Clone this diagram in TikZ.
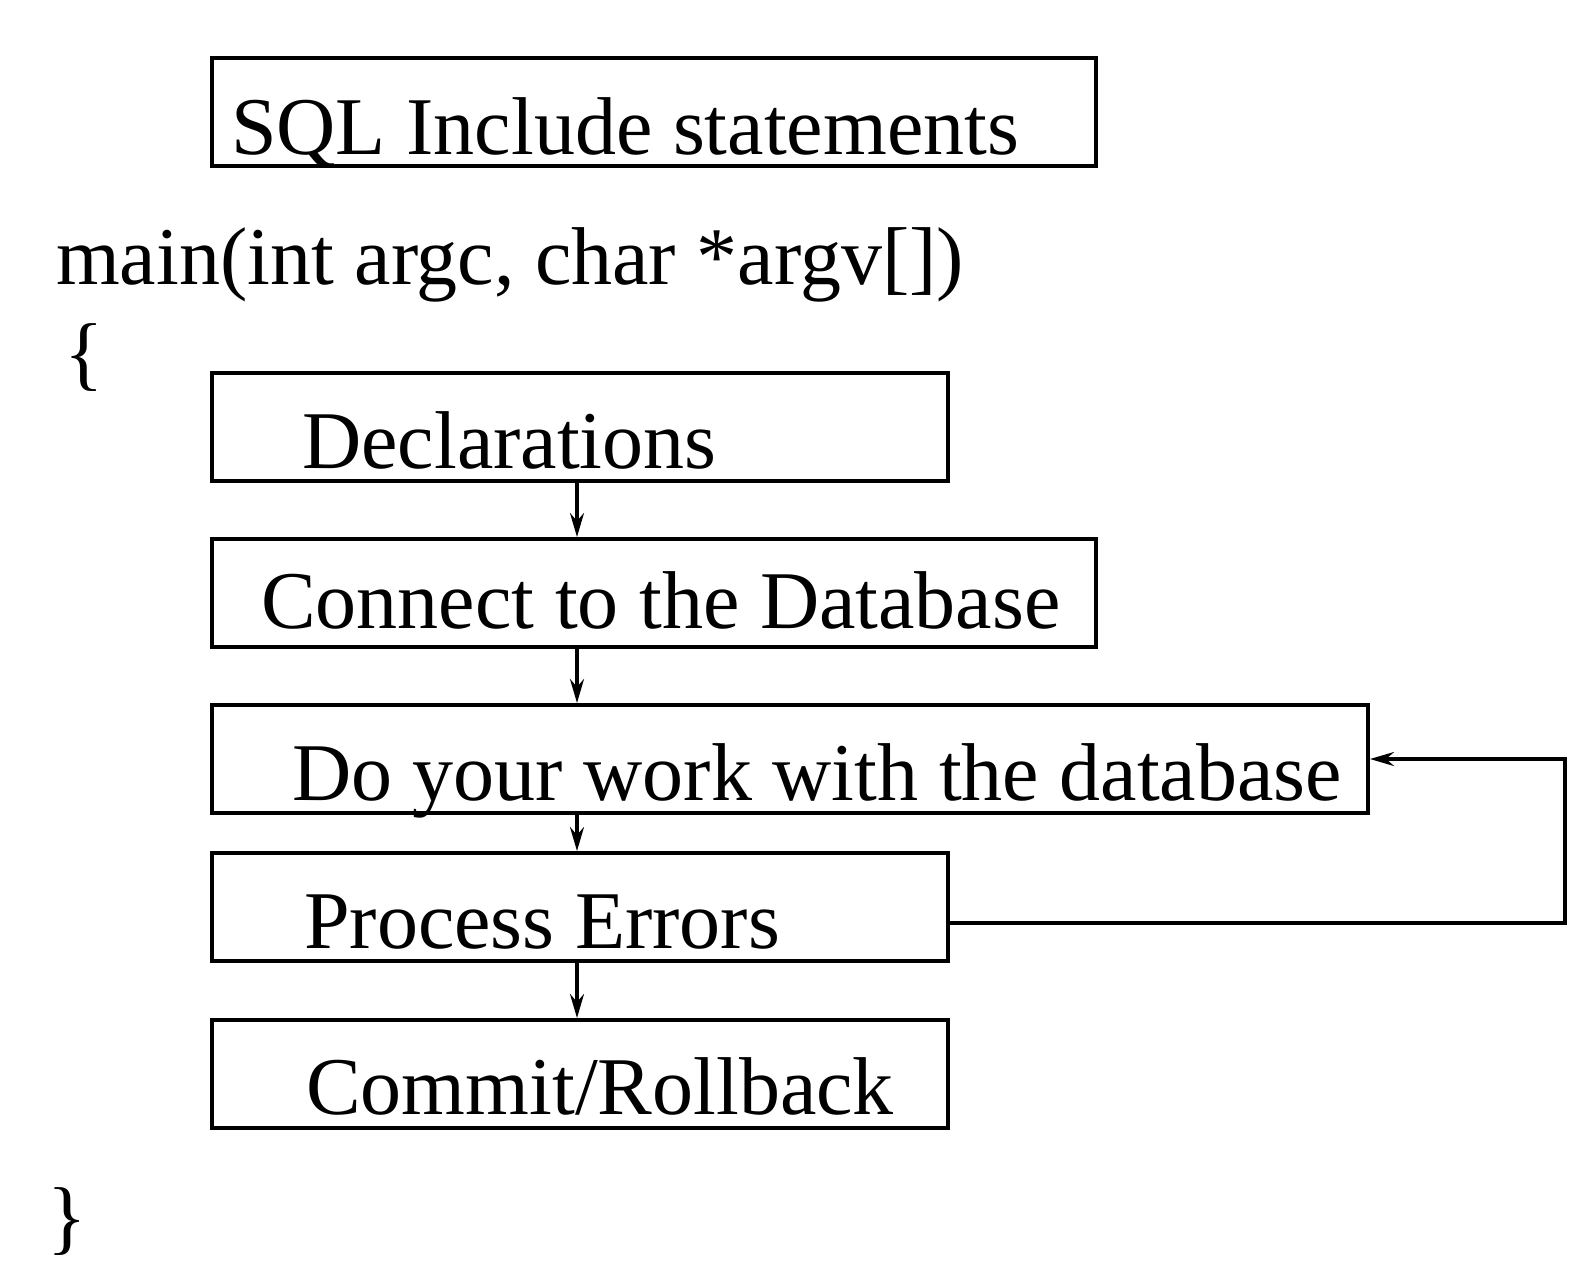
\documentclass[tikz,border=0pt]{standalone}
\usepackage{fontspec}
\setmainfont{Liberation Serif}
\usetikzlibrary{arrows.meta,calc}
\begin{document}
\begin{tikzpicture}[x=1pt,y=-1pt,
  box/.style={draw,line width=4pt,anchor=north west,inner sep=0pt,minimum height=108pt},
  lbl/.style={anchor=base west,inner sep=0pt,font=\fontsize{82}{98}\selectfont},
  arr/.style={line width=3.2pt,-{Stealth[length=24pt,width=14pt,inset=8pt]}}]
\useasboundingbox (0,0) rectangle (1589,1281);
% boxes
\node[box,minimum width=884pt] (sql) at (210,56) {};
\node[box,minimum width=736pt] (decl) at (210,371) {};
\node[box,minimum width=884pt] (conn) at (210,537) {};
\node[box,minimum width=1156pt] (work) at (210,703) {};
\node[box,minimum width=736pt] (proc) at (210,851) {};
\node[box,minimum width=736pt] (comm) at (210,1018) {};
% texts
\node[lbl] (tsql) at (231,155) {SQL Include statements};
\node[lbl] (tmain) at (56,284) {main(int argc, char *argv[])};
\node[lbl] (lb) at (64,380) {\{};
\node[lbl] (tdecl) at (302,468) {Declarations};
\node[lbl] (tconn) at (261,628) {Connect to the Database};
\node[lbl] (twork) at (292,800) {Do your work with the database};
\node[lbl] (tproc) at (304,948) {Process Errors};
\node[lbl] (tcomm) at (306,1114) {Commit/Rollback};
\node[lbl] (rb) at (47,1244) {\}};
% connectors
\coordinate (ax) at (577,0);
\draw[arr] (decl.south -| ax) -- (conn.north -| ax);
\draw[arr] (conn.south -| ax) -- (work.north -| ax);
\draw[arr] (work.south -| ax) -- (proc.north -| ax);
\draw[arr] (proc.south -| ax) -- (comm.north -| ax);
\coordinate (fy) at (0,923);
\coordinate (fx) at (1565,0);
\draw[arr] (proc.east |- fy) -- (fx |- fy) -- (fx |- work.east) -- (work.east);
\end{tikzpicture}
\end{document}
